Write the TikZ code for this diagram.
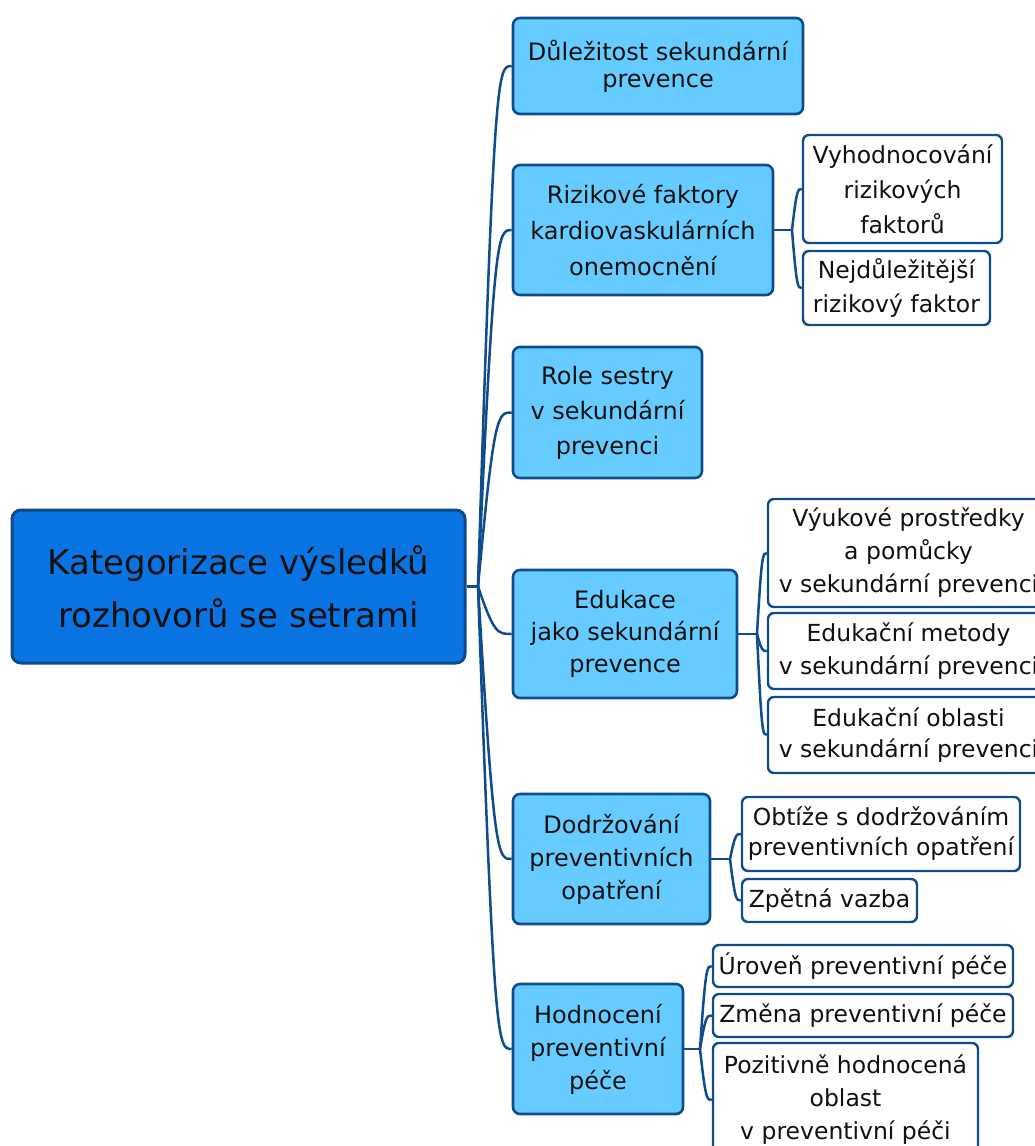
\documentclass[tikz,border=0pt]{standalone}
\usepackage{fontspec}
\setmainfont{DejaVu Sans}
\usetikzlibrary{calc}
\definecolor{rootfill}{HTML}{0A74E2}
\definecolor{rootline}{HTML}{0E4A8A}
\definecolor{lonefill}{HTML}{66CCFF}
\definecolor{edgeblue}{HTML}{0F4C8C}
\definecolor{txt}{HTML}{111111}
\tikzset{
  rootbox/.style={draw=rootline, line width=3pt, fill=rootfill, rounded corners=9pt, inner sep=0pt, align=center, text=txt, font=\fontsize{34}{53}\selectfont},
  onebox/.style={draw=edgeblue, line width=2.6pt, fill=lonefill, rounded corners=7pt, inner sep=0pt, align=center, text=txt, font=\fontsize{24}{34}\selectfont},
  twobox/.style={draw=edgeblue, line width=2.4pt, fill=white, rounded corners=6pt, inner sep=0pt, align=center, text=txt, font=\fontsize{23.5}{33}\selectfont},
  link/.style={draw=edgeblue, line width=2.5pt},
}
\newcommand\mmlink[2]{\draw[link] (#1) .. controls ($(#1|-#2.west)!0.48!(#2.west)$) and ($(#1|-#2.west)!0.58!(#2.west)$) .. (#2.west);}
\begin{document}
\begin{tikzpicture}[x=1pt,y=-1pt]
\useasboundingbox (0,0) rectangle (1035,1146);
% root
\node[rootbox, minimum width=453, minimum height=153] (root) at (238.5,586.5) {Kategorizace výsledků\\rozhovorů se setrami};
% level 1
\node[onebox, minimum width=290, minimum height=96, font=\fontsize{24}{27}\selectfont] (A) at (658,66) {Důležitost sekundární\\prevence};
\node[onebox, minimum width=260, minimum height=130, font=\fontsize{24}{36}\selectfont] (B) at (643,230) {Rizikové faktory\\kardiovaskulárních\\onemocnění};
\node[onebox, minimum width=189, minimum height=131, font=\fontsize{24}{35}\selectfont] (C) at (607.5,412.5) {Role sestry\\v sekundární\\prevenci};
\node[onebox, minimum width=224, minimum height=128, font=\fontsize{24}{32}\selectfont] (D) at (625,634) {Edukace\\jako sekundární\\prevence};
\node[onebox, minimum width=197, minimum height=130, font=\fontsize{24}{33}\selectfont] (E) at (611.5,859) {Dodržování\\preventivních\\opatření};
\node[onebox, minimum width=170, minimum height=130, font=\fontsize{24}{33}\selectfont] (F) at (598,1049) {Hodnocení\\preventivní\\péče};
% level 2
\node[twobox, minimum width=199, minimum height=108, font=\fontsize{23.5}{35}\selectfont] (B1) at (902.5,189) {Vyhodnocování\\rizikových\\faktorů};
\node[twobox, minimum width=187, minimum height=74, font=\fontsize{23.5}{34}\selectfont] (B2) at (896.5,288) {Nejdůležitější\\rizikový faktor};
\node[twobox, minimum width=281, minimum height=108] (D1) at (908.5,553) {Výukové prostředky\\a pomůcky\\v sekundární prevenci};
\node[twobox, minimum width=281, minimum height=76] (D2) at (908.5,651) {Edukační metody\\v sekundární prevenci};
\node[twobox, minimum width=281, minimum height=76, font=\fontsize{23.5}{31}\selectfont] (D3) at (908.5,735) {Edukační oblasti\\v sekundární prevenci};
\node[twobox, minimum width=278, minimum height=74, font=\fontsize{23.5}{30}\selectfont] (E1) at (881,834) {Obtíže s dodržováním\\preventivních opatření};
\node[twobox, minimum width=175, minimum height=43] (E2) at (829.5,900.5) {Zpětná vazba};
\node[twobox, minimum width=300, minimum height=42] (F1) at (863,966) {Úroveň preventivní péče};
\node[twobox, minimum width=300, minimum height=43] (F2) at (863,1015.5) {Změna preventivní péče};
\node[twobox, minimum width=265, minimum height=114] (F3) at (845.5,1100) {Pozitivně hodnocená\\oblast\\v preventivní péči};
% trunk
\coordinate (t) at (478,586.5);
\draw[link] (root.east) -- (t);
\mmlink{t}{A}
\mmlink{t}{B}
\mmlink{t}{C}
\mmlink{t}{D}
\mmlink{t}{E}
\mmlink{t}{F}
% branch B
\coordinate (tb) at (792,230);
\draw[link] (B.east) -- (tb);
\mmlink{tb}{B1}
\mmlink{tb}{B2}
% branch D
\coordinate (td) at (757,634);
\draw[link] (D.east) -- (td);
\mmlink{td}{D1}
\mmlink{td}{D2}
\mmlink{td}{D3}
% branch E
\coordinate (te) at (730,859);
\draw[link] (E.east) -- (te);
\mmlink{te}{E1}
\mmlink{te}{E2}
% branch F
\coordinate (tf) at (700,1049);
\draw[link] (F.east) -- (tf);
\mmlink{tf}{F1}
\mmlink{tf}{F2}
\mmlink{tf}{F3}
\end{tikzpicture}
\end{document}
